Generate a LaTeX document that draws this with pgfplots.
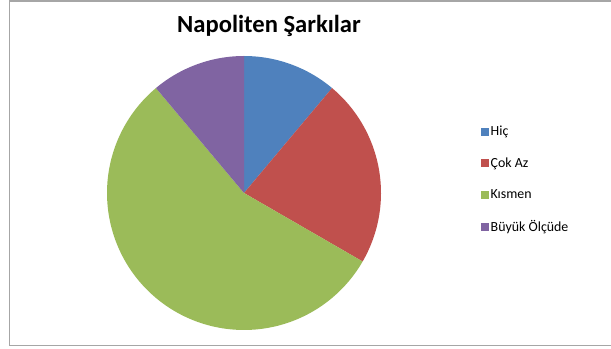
\documentclass[border=0pt]{standalone}
\usepackage{pgfplots}
\usepackage{pgfplotstable}
\pgfplotsset{compat=1.18}
\usepackage{fontspec}
\setmainfont{Carlito}

\definecolor{sBlue}{HTML}{4F81BD}
\definecolor{sRed}{HTML}{C0504D}
\definecolor{sGreen}{HTML}{9BBB59}
\definecolor{sPurple}{HTML}{8064A2}
\definecolor{frameGray}{HTML}{A6A6A6}

% answers to the survey question
\pgfplotstableread{
label value
Hic   1
Cok   2
Kis   5
Buy   1
}\shares

\pgfplotstablegetelem{0}{value}\of\shares \let\vA\pgfplotsretval
\pgfplotstablegetelem{1}{value}\of\shares \let\vB\pgfplotsretval
\pgfplotstablegetelem{2}{value}\of\shares \let\vC\pgfplotsretval
\pgfplotstablegetelem{3}{value}\of\shares \let\vD\pgfplotsretval
\pgfmathsetmacro\total{\vA+\vB+\vC+\vD}
% slice boundaries, clockwise from the top
\pgfmathsetmacro\aA{90}
\pgfmathsetmacro\aB{\aA-360*\vA/\total}
\pgfmathsetmacro\aC{\aB-360*\vB/\total}
\pgfmathsetmacro\aD{\aC-360*\vC/\total}
\pgfmathsetmacro\aE{\aD-360*\vD/\total}

\def\cx{244}
\def\cy{156}
\def\r{137}

\begin{document}
\begin{tikzpicture}
\begin{axis}[
  scale only axis, width=611bp, height=349bp,
  xmin=0, xmax=611, ymin=0, ymax=349,
  hide axis, clip=false,
  legend cell align=left,
  legend style={draw=none, fill=none, at={(axis cs:480.5,225)}, anchor=north west,
    font=\fontsize{13.9bp}{15bp}\selectfont, row sep=16.5bp, inner sep=0pt,
    /tikz/every even column/.append style={column sep=0pt},
    nodes={inner xsep=1.5bp}},
  legend image code/.code={\fill[#1] (0bp,-4bp) rectangle (8.5bp,4bp);},
]
\addplot[sBlue, fill=sBlue, draw=none, domain=\aB:\aA, samples=40, variable=\t]
  ({\cx+\r*cos(\t)},{\cy+\r*sin(\t)}) -- (axis cs:\cx,\cy) -- cycle;
\addplot[sRed, fill=sRed, draw=none, domain=\aC:\aB, samples=60, variable=\t]
  ({\cx+\r*cos(\t)},{\cy+\r*sin(\t)}) -- (axis cs:\cx,\cy) -- cycle;
\addplot[sGreen, fill=sGreen, draw=none, domain=\aD:\aC, samples=120, variable=\t]
  ({\cx+\r*cos(\t)},{\cy+\r*sin(\t)}) -- (axis cs:\cx,\cy) -- cycle;
\addplot[sPurple, fill=sPurple, draw=none, domain=\aE:\aD, samples=40, variable=\t]
  ({\cx+\r*cos(\t)},{\cy+\r*sin(\t)}) -- (axis cs:\cx,\cy) -- cycle;
\legend{Hiç, Çok Az, Kısmen, Büyük Ölçüde}

% chart frame
\draw[frameGray, line width=1.5bp] (axis cs:611,348.2) -- (axis cs:9.5,348.2)
  -- (axis cs:9.5,3.5) -- (axis cs:611,3.5);
% title
\node[font=\fontsize{24.6bp}{28bp}\selectfont\bfseries, anchor=base]
  at (axis cs:269,316) {Napoliten Şarkılar};
\end{axis}
\pgfresetboundingbox
\useasboundingbox (current axis.south west) rectangle (current axis.north east);
\end{tikzpicture}
\end{document}
